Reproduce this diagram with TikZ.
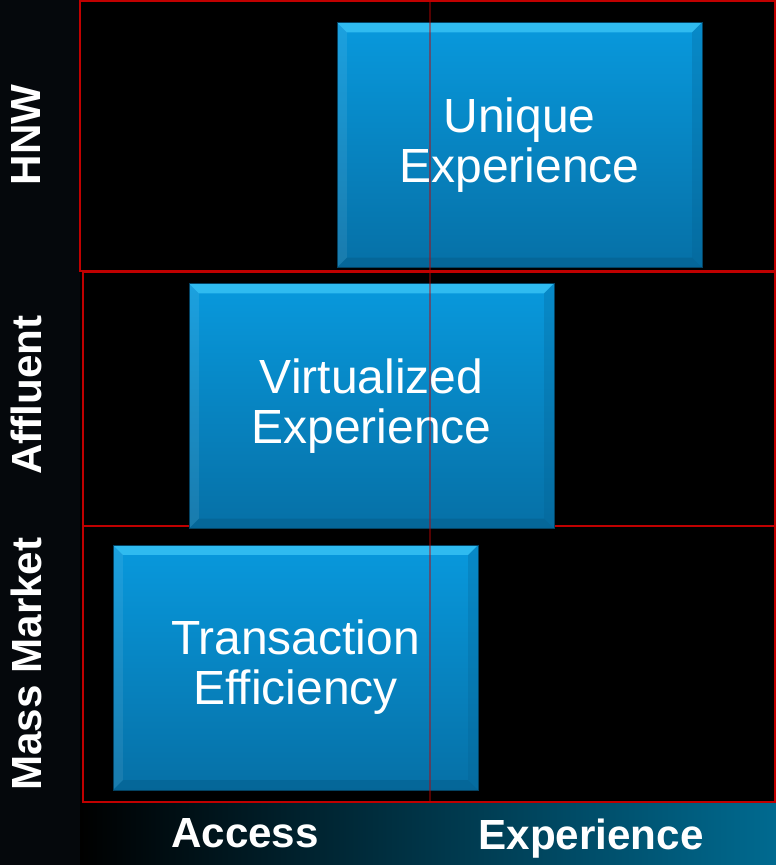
\documentclass[tikz,border=0pt]{standalone}
\usepackage{fontspec}
\setmainfont{Liberation Sans}
\usepackage{tikz}
\usetikzlibrary{positioning}

\definecolor{stripcol}{HTML}{05080C}
\definecolor{bandcol}{HTML}{006A90}
\definecolor{gridred}{HTML}{C00000}
\definecolor{boxtop}{HTML}{0899DD}
\definecolor{boxbot}{HTML}{0670A6}
\definecolor{bevlight}{HTML}{3CC6F6}
\definecolor{bevdark}{HTML}{055E8C}

\tikzset{
  rowframe/.style={draw=gridred, line width=1.1pt},
  rowlabel/.style={text=white, font=\fontsize{24}{27}\selectfont\bfseries, rotate=90},
  axislabel/.style={text=white, font=\fontsize{24}{27}\selectfont\bfseries},
  bluebox/.style={minimum width=7.3cm, minimum height=4.9cm, inner sep=0pt,
    top color=boxtop, bottom color=boxbot, draw=bevdark!70!black, line width=0.3pt,
    text=white, align=center, font=\fontsize{27.3}{28.5}\selectfont,
    path picture={
      %% bevel edges
      \fill[bevlight!75!boxtop] (path picture bounding box.north west) -- (path picture bounding box.north east)
        -- ([xshift=-5.6pt,yshift=-5.6pt]path picture bounding box.north east)
        -- ([xshift=5.6pt,yshift=-5.6pt]path picture bounding box.north west) -- cycle;
      \fill[white, opacity=0.08] (path picture bounding box.north west) -- (path picture bounding box.south west)
        -- ([xshift=5.6pt,yshift=5.6pt]path picture bounding box.south west)
        -- ([xshift=5.6pt,yshift=-5.6pt]path picture bounding box.north west) -- cycle;
      \fill[bevdark, opacity=0.25] (path picture bounding box.north east) -- (path picture bounding box.south east)
        -- ([xshift=-5.6pt,yshift=5.6pt]path picture bounding box.south east)
        -- ([xshift=-5.6pt,yshift=-5.6pt]path picture bounding box.north east) -- cycle;
      \fill[bevdark, opacity=0.5] (path picture bounding box.south west) -- (path picture bounding box.south east)
        -- ([xshift=-5.6pt,yshift=5.6pt]path picture bounding box.south east)
        -- ([xshift=5.6pt,yshift=5.6pt]path picture bounding box.south west) -- cycle;
    }},
}

\begin{document}
\begin{tikzpicture}[x=0.02cm, y=-0.02cm]
	\useasboundingbox (0,0) rectangle (776,865);
	%% background
	\fill[black] (0,0) rectangle (776,865);
	\fill[stripcol] (0,0) rectangle (80,865);
	\shade[left color=black, right color=bandcol] (80,803) rectangle (776,865);
	%% row frames
	\draw[rowframe] (80,1) rectangle (775,271);
	\draw[rowframe] (83,272) rectangle (775,526);
	\draw[rowframe] (83,526) rectangle (775,802);
	%% boxes
	\node[bluebox] (unique) at (519.5,145) {Unique\\Experience};
	\node[bluebox] (virtual) at (371.5,406) {Virtualized\\Experience};
	\node[bluebox] (transaction) at (295.5,667.5) {Transaction\\Efficiency};
	%% divider between access and experience
	\draw[gridred, opacity=0.45, line width=0.6pt] (430,0) -- (430,802);
	%% labels
	\node[rowlabel] (hnw) at (26,135) {HNW};
	\node[rowlabel] (affluent) at (26,395) {Affluent};
	\node[rowlabel] (mass) at (26,664) {Mass Market};
	\node[axislabel] (access) at (245,833) {Access};
	\node[axislabel] (experience) at (591,839) {Experience};
\end{tikzpicture}
\end{document}
